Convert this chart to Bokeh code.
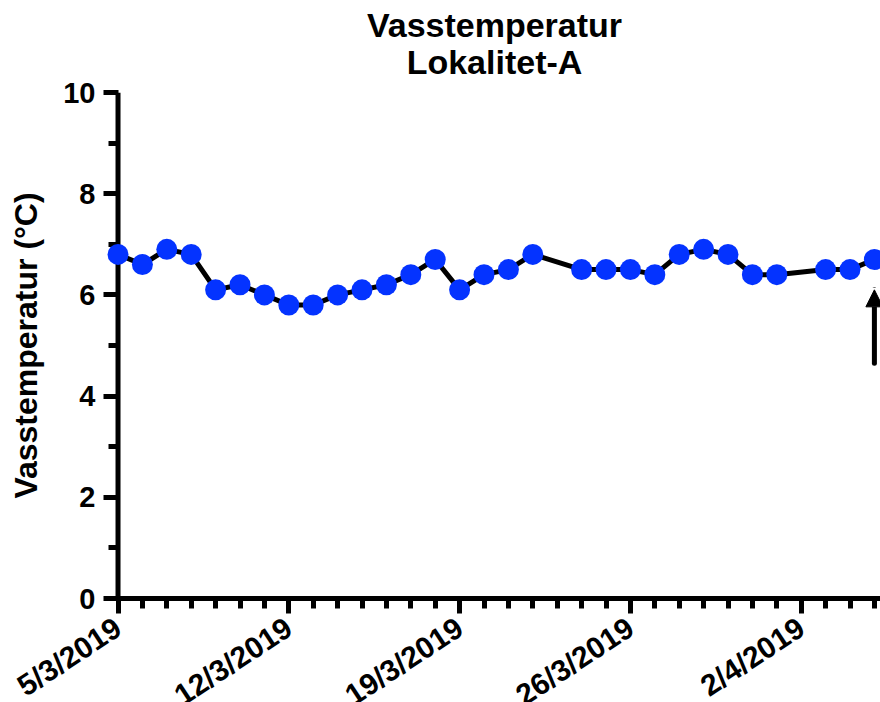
import math
import pandas as pd
from bokeh.plotting import figure
from bokeh.models import Range1d, FixedTicker, Arrow, NormalHead, Span, Title
from bokeh.embed import file_html
from bokeh.resources import INLINE

# ---------------- data ----------------
title_line1 = "Vasstemperatur"
title_line2 = "Lokalitet-A"
y_label = "Vasstemperatur (°C)"

dates = [
    "2019-03-05", "2019-03-06", "2019-03-07", "2019-03-08", "2019-03-09",
    "2019-03-10", "2019-03-11", "2019-03-12", "2019-03-13", "2019-03-14",
    "2019-03-15", "2019-03-16", "2019-03-17", "2019-03-18", "2019-03-19",
    "2019-03-20", "2019-03-21", "2019-03-22", "2019-03-24", "2019-03-25",
    "2019-03-26", "2019-03-27", "2019-03-28", "2019-03-29", "2019-03-30",
    "2019-03-31", "2019-04-01", "2019-04-03", "2019-04-04", "2019-04-05",
]
temps = [
    6.8, 6.6, 6.9, 6.8, 6.1,
    6.2, 6.0, 5.8, 5.8, 6.0,
    6.1, 6.2, 6.4, 6.7, 6.1,
    6.4, 6.5, 6.8, 6.5, 6.5,
    6.5, 6.4, 6.8, 6.9, 6.8,
    6.4, 6.4, 6.5, 6.5, 6.7,
]

tick_dates = ["2019-03-05", "2019-03-12", "2019-03-19", "2019-03-26", "2019-04-02"]
tick_labels = ["5/3/2019", "12/3/2019", "19/3/2019", "26/3/2019", "2/4/2019"]
y_ticks = [0, 2, 4, 6, 8, 10]
y_minor = [1, 3, 5, 7, 9]

arrow_date = "2019-04-05"
arrow_from = 4.65
arrow_to = 6.1

# ---------------- derived ----------------
start = pd.Timestamp(dates[0])
x = [(pd.Timestamp(d) - start).days for d in dates]
tick_x = [(pd.Timestamp(d) - start).days for d in tick_dates]
last_day = (pd.Timestamp(dates[-1]) - start).days
arrow_x = (pd.Timestamp(arrow_date) - start).days

FONT = "Liberation Sans"

p = figure(
    frame_width=772, frame_height=506,
    x_range=Range1d(-0.39, last_day + 0.25),
    y_range=Range1d(0, 10),
    output_backend="svg", toolbar_location=None,
    min_border_left=108, min_border_right=0,
    min_border_top=92, min_border_bottom=0,
    title=None,
)
p.grid.visible = False
p.outline_line_color = None
p.background_fill_color = "white"
p.border_fill_color = "white"

for txt, stand in [(title_line2, 24), (title_line1, -30)]:
    p.add_layout(Title(
        text=txt, align="center", standoff=stand,
        text_font=FONT, text_font_style="bold", text_font_size="34px",
        text_color="black",
    ), "above")

# x axis
xa = p.xaxis[0]
xa.ticker = FixedTicker(ticks=tick_x, minor_ticks=list(range(0, last_day + 1)))
xa.major_label_overrides = {t: l for t, l in zip(tick_x, tick_labels)}
xa.major_label_orientation = 0.58
xa.major_label_text_font = FONT
xa.major_label_text_font_style = "bold"
xa.major_label_text_font_size = "30px"
xa.major_label_text_color = "black"
xa.major_label_standoff = 11
xa.axis_line_width = 5
xa.major_tick_line_width = 5
xa.minor_tick_line_width = 5
xa.major_tick_in = 0
xa.minor_tick_in = 0
xa.major_tick_out = 15
xa.minor_tick_out = 10

# y axis (line drawn by a span at the first date; ticks reach it from the frame edge)
ya = p.yaxis[0]
ya.ticker = FixedTicker(ticks=y_ticks, minor_ticks=y_minor)
ya.axis_line_color = None
ya.major_label_text_font = FONT
ya.major_label_text_font_style = "bold"
ya.major_label_text_font_size = "29px"
ya.major_label_text_color = "black"
ya.major_label_standoff = 8
ya.major_tick_line_width = 5
ya.minor_tick_line_width = 5
ya.major_tick_in = 10
ya.major_tick_out = 5
ya.minor_tick_in = 10
ya.minor_tick_out = 0
ya.axis_label = y_label
ya.axis_label_text_font = FONT
ya.axis_label_text_font_style = "bold"
ya.axis_label_text_font_size = "32px"
ya.axis_label_text_color = "black"
ya.axis_label_standoff = 16

p.add_layout(Span(location=x[0], dimension="height", line_width=5, line_color="black"))

# data
p.line(x, temps, line_width=5, line_color="black", level="overlay")
p.scatter(x, temps, size=21, fill_color="#0433ff", line_color=None, level="overlay")

p.add_layout(Arrow(
    end=NormalHead(size=17, fill_color="black", line_color="black", line_width=1),
    x_start=arrow_x, y_start=arrow_from, x_end=arrow_x, y_end=arrow_to,
    line_width=5, line_color="black", line_cap="round",
))

open("out.html", "w").write(file_html(p, INLINE))
